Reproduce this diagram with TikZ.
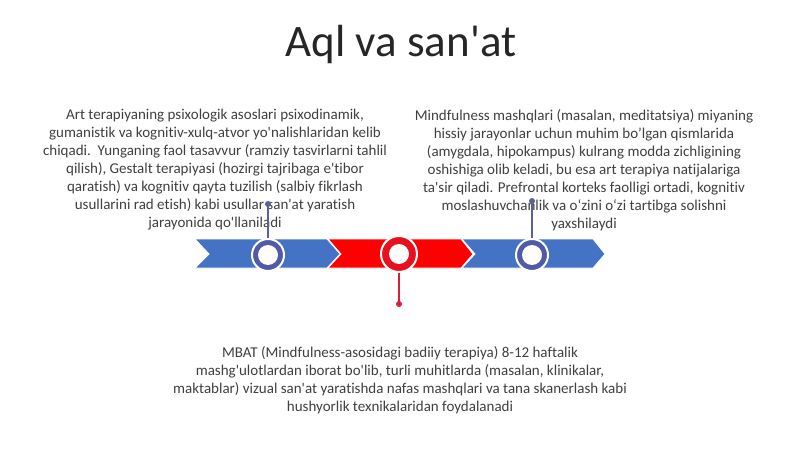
\documentclass[tikz,border=0pt]{standalone}
\usepackage{fontspec}
\setmainfont{Carlito}[Ligatures={TeXOff,NoCommon,NoContextual},Contextuals=NoAlternate]
\definecolor{bandblue}{HTML}{4472C4}
\definecolor{bandred}{HTML}{FF0000}
\definecolor{ringblue}{HTML}{4F5AA8}
\definecolor{ringred}{HTML}{E8101E}
\definecolor{lineblue}{HTML}{5B6396}
\definecolor{linered}{HTML}{D81E3C}
\definecolor{txt}{HTML}{404040}
\definecolor{ttl}{HTML}{262626}
\begin{document}
\begin{tikzpicture}[x=1pt,y=-1pt,
  body/.style={font=\fontsize{15}{18}\selectfont, text=txt, align=center, inner sep=0pt, anchor=north},
  chev/.style={draw=white, line width=0.8pt},
  ringb/.style={circle, draw=white, line width=2pt, fill=ringblue, minimum size=32pt, inner sep=0pt},
  ringr/.style={circle, draw=white, line width=2pt, fill=ringred, minimum size=36pt, inner sep=0pt},
  hole/.style={circle, fill=white, minimum size=20pt, inner sep=0pt},
  dotb/.style={circle, fill=lineblue, minimum size=6pt, inner sep=0pt},
  dotr/.style={circle, fill=linered, minimum size=6pt, inner sep=0pt},
  connb/.style={draw=lineblue, line width=1.2pt},
  connr/.style={draw=linered, line width=1.2pt}]
\useasboundingbox (0,0) rectangle (800,449);
\fill[white] (0,0) rectangle (800,449);
% title
\node[font=\fontsize{45}{50}\selectfont, text=ttl, inner sep=0pt] (title) at (401,45) {Aql va san'at};
% text blocks
\node[body] (left) at (215,109) {Art terapiyaning psixologik asoslari psixodinamik,\\
gumanistik va kognitiv-xulq-atvor yo'nalishlaridan kelib\\
chiqadi.\ \ Yunganing faol tasavvur (ramziy tasvirlarni tahlil\\
qilish), Gestalt terapiyasi (hozirgi tajribaga e'tibor\\
qaratish) va kognitiv qayta tuzilish (salbiy fikrlash\\
usullarini rad etish) kabi usullar san'at yaratish\\
jarayonida qo'llaniladi};
\node[body] (right) at (584,109) {Mindfulness mashqlari (masalan, meditatsiya) miyaning\\
hissiy jarayonlar uchun muhim bo’lgan qismlarida\\
(amygdala, hipokampus) kulrang modda zichligining\\
oshishiga olib keladi, bu esa art terapiya natijalariga\\
ta'sir qiladi. Prefrontal korteks faolligi ortadi, kognitiv\\
moslashuvchanlik va o‘zini o‘zi tartibga solishni\\
yaxshilaydi};
\node[body] (bottom) at (400,346) {MBAT (Mindfulness-asosidagi badiiy terapiya) 8-12 haftalik\\
mashg'ulotlardan iborat bo'lib, turli muhitlarda (masalan, klinikalar,\\
maktablar) vizual san'at yaratishda nafas mashqlari va tana skanerlash kabi\\
hushyorlik texnikalaridan foydalanadi};
% chevron band
\fill[chev, fill=bandblue] (195,239) -- (327,239) -- (340,254) -- (327,268) -- (195,268) -- (209,254) -- cycle;
\fill[chev, fill=bandred] (328,239) -- (461,239) -- (473,254) -- (461,268) -- (328,268) -- (341,254) -- cycle;
\fill[chev, fill=bandblue] (462,239) -- (593,239) -- (605,254) -- (593,268) -- (462,268) -- (475,254) -- cycle;
% connectors and dots
\node[dotb] (d1) at (268,204) {};
\node[dotb] (d3) at (532,201) {};
\node[dotr] (d2) at (399,304) {};
\node[ringb] (c1) at (268,255) {};
\node[ringr] (c2) at (399,254) {};
\node[ringb] (c3) at (532,255) {};
\draw[connb] (c1.north) -- (d1.center);
\draw[connb] (c3.north) -- (d3.center);
\draw[connr] (c2.south) -- (d2.center);
\node[hole] at (c1) {};
\node[hole] at (c2) {};
\node[hole] at (c3) {};
\end{tikzpicture}
\end{document}
